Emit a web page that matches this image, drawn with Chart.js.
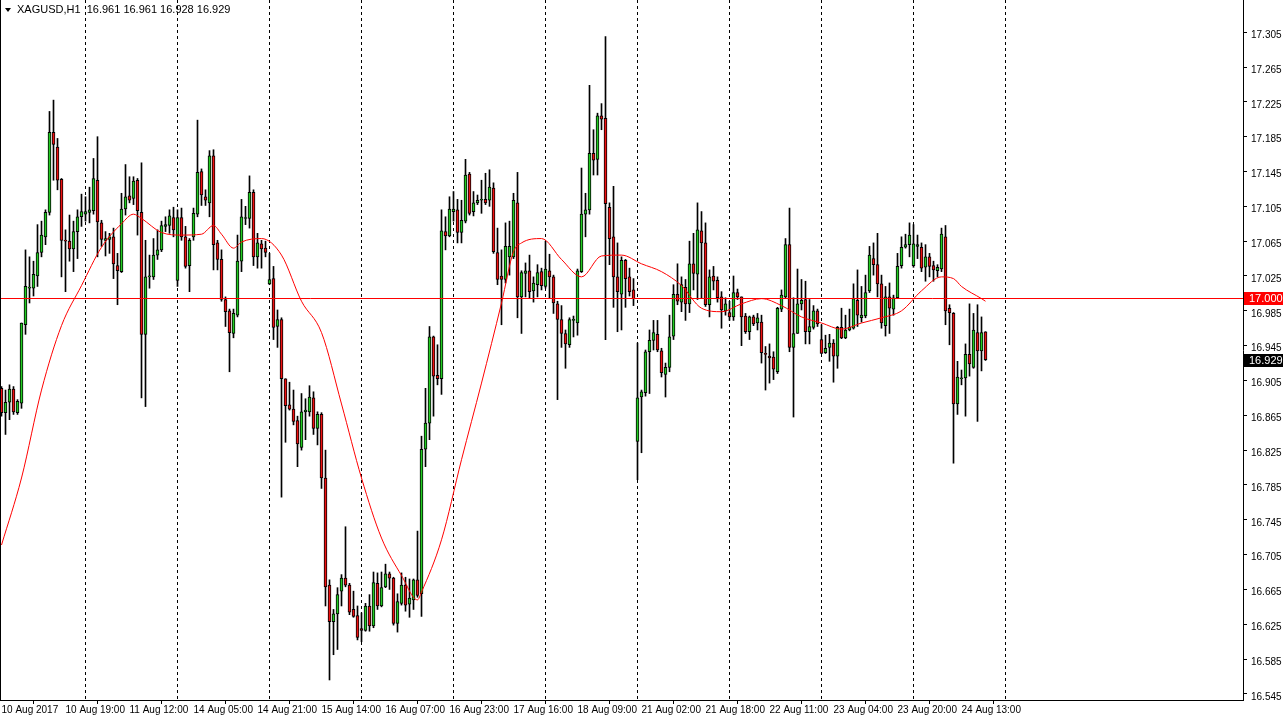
<!DOCTYPE html>
<html>
<head>
<meta charset="utf-8">
<title>XAGUSD,H1</title>
<script src="https://cdn.jsdelivr.net/npm/chart.js@4.4.0/dist/chart.umd.min.js"></script>
<style>
  html, body { margin: 0; padding: 0; background: #fff; }
  #wrap { position: relative; width: 1283px; height: 721px; }
</style>
</head>
<body>
<div id="wrap"><canvas id="chart" width="1283" height="721"></canvas></div>
<script>
// XAGUSD H1 candles, 10 Aug 2017 -> 24 Aug 2017
var opens = [
  16.896,16.868,16.880,16.895,16.868,16.879,16.969,17.011,17.011,17.025,
  17.052,17.070,17.098,17.190,17.173,17.136,17.066,17.065,17.056,17.076,
  17.093,17.096,17.098,17.100,17.135,17.086,17.066,17.067,17.070,17.037,
  17.030,17.102,17.117,17.114,17.135,17.098,16.958,17.024,17.024,17.049,
  17.055,17.082,17.083,17.092,17.020,17.092,17.070,17.037,17.070,17.096,
  17.145,17.116,17.109,17.163,17.063,17.044,16.998,16.985,16.959,16.980,
  17.042,17.091,17.091,17.121,17.047,17.062,17.057,17.016,17.022,16.967,
  16.975,16.907,16.877,16.872,16.859,16.828,16.869,16.869,16.885,16.850,
  16.866,16.793,16.670,16.628,16.637,16.663,16.678,16.670,16.642,16.635,
  16.620,16.618,16.646,16.623,16.672,16.646,16.668,16.683,16.678,16.626,
  16.649,16.670,16.648,16.653,16.676,16.660,16.826,16.856,16.955,16.911,
  16.907,17.076,17.071,17.099,17.101,17.075,17.088,17.142,17.099,17.109,
  17.112,17.113,17.112,17.126,17.052,17.025,17.021,17.047,17.047,17.109,
  17.001,17.028,17.031,17.008,17.015,17.030,17.013,17.031,17.024,16.993,
  16.975,16.959,16.946,16.974,16.971,17.030,17.096,17.101,17.166,17.159,
  17.209,17.206,17.104,17.070,17.024,17.004,17.043,17.024,17.009,16.835,
  16.886,16.891,16.938,16.951,16.958,16.939,16.912,16.920,16.956,17.004,
  16.995,17.012,16.993,17.039,17.027,17.077,17.063,16.992,17.025,17.020,
  17.001,16.985,16.983,16.978,17.006,17.001,16.979,16.961,16.978,16.971,
  16.972,16.936,16.933,16.932,16.915,16.987,17.001,17.061,16.943,16.959,
  16.993,16.998,16.961,16.966,16.985,16.952,16.937,16.943,16.948,16.933,
  16.966,16.954,16.963,16.965,16.997,16.977,16.979,17.008,17.045,17.038,
  17.016,16.968,17.001,16.987,17.000,17.037,17.058,17.061,17.037,17.059,
  17.058,17.035,17.047,17.037,17.031,17.033,17.070,16.988,16.982,16.878,
  16.907,16.908,16.935,16.920,16.960,16.939,16.961
];
var highs = [
  16.898,16.894,16.900,16.898,16.883,16.971,17.055,17.047,17.042,17.084,
  17.088,17.101,17.214,17.227,17.183,17.137,17.078,17.095,17.088,17.101,
  17.119,17.116,17.127,17.160,17.185,17.089,17.076,17.074,17.080,17.051,
  17.120,17.153,17.139,17.139,17.137,17.155,17.066,17.049,17.068,17.078,
  17.088,17.093,17.101,17.104,17.101,17.103,17.082,17.068,17.103,17.204,
  17.148,17.124,17.169,17.170,17.066,17.055,17.001,16.987,16.987,17.072,
  17.113,17.105,17.140,17.124,17.074,17.066,17.065,17.051,17.036,16.986,
  16.977,16.907,16.903,16.894,16.864,16.890,16.884,16.899,16.892,16.869,
  16.868,16.825,16.676,16.642,16.667,16.682,16.737,16.672,16.663,16.646,
  16.638,16.649,16.659,16.685,16.684,16.685,16.694,16.685,16.679,16.660,
  16.684,16.679,16.677,16.677,16.732,16.841,16.896,16.967,16.956,16.946,
  17.101,17.093,17.116,17.122,17.113,17.112,17.159,17.144,17.122,17.118,
  17.135,17.143,17.147,17.132,17.080,17.055,17.086,17.088,17.120,17.144,
  17.031,17.040,17.049,17.024,17.038,17.034,17.065,17.050,17.026,16.996,
  16.991,16.963,16.977,16.979,17.033,17.149,17.120,17.244,17.193,17.212,
  17.223,17.300,17.109,17.128,17.063,17.047,17.044,17.034,17.022,16.948,
  16.894,16.940,16.963,16.974,16.974,16.942,16.925,16.980,17.015,17.039,
  17.024,17.021,17.065,17.074,17.109,17.099,17.086,17.032,17.036,17.024,
  17.007,17.000,16.996,17.025,17.010,17.001,16.982,16.979,16.980,16.982,
  16.980,16.944,16.947,16.938,16.989,17.009,17.068,17.103,17.000,17.033,
  17.021,17.019,16.998,16.991,16.987,16.969,16.957,16.958,16.952,16.967,
  16.988,16.980,16.987,17.016,17.032,17.013,17.026,17.059,17.063,17.074,
  17.026,17.013,17.017,17.003,17.051,17.070,17.073,17.086,17.084,17.072,
  17.063,17.061,17.051,17.042,17.038,17.080,17.083,16.992,16.983,16.927,
  16.917,16.947,16.993,16.982,16.992,16.978,16.961
];
var lows = [
  16.864,16.843,16.860,16.866,16.866,16.873,16.958,16.994,17.002,17.013,
  17.047,17.061,17.095,17.135,17.124,17.024,17.007,17.042,17.030,17.045,
  17.082,17.088,17.086,17.096,17.047,17.059,17.048,17.051,17.022,16.992,
  17.029,17.095,17.109,17.107,17.072,16.885,16.875,17.011,17.021,17.044,
  17.053,17.076,17.074,17.070,17.013,17.066,17.034,17.007,17.066,17.093,
  17.106,17.106,17.093,17.032,17.032,16.996,16.967,16.915,16.954,16.978,
  17.030,17.084,17.080,17.037,17.034,17.034,17.047,17.015,16.952,16.943,
  16.771,16.834,16.871,16.854,16.806,16.825,16.837,16.864,16.843,16.831,
  16.781,16.646,16.561,16.590,16.596,16.646,16.668,16.636,16.633,16.607,
  16.605,16.617,16.617,16.621,16.642,16.645,16.667,16.665,16.624,16.616,
  16.647,16.640,16.633,16.642,16.656,16.634,16.806,16.837,16.864,16.900,
  16.889,17.055,17.070,17.088,17.063,17.063,17.086,17.095,17.094,17.107,
  17.097,17.107,17.105,17.051,17.015,16.969,17.017,17.026,17.045,16.977,
  16.959,17.001,17.000,16.995,17.001,17.009,17.011,17.000,16.982,16.883,
  16.943,16.919,16.943,16.955,16.957,17.029,17.070,17.096,17.141,17.141,
  17.193,16.952,17.038,16.989,16.961,16.963,16.989,17.002,16.991,16.791,
  16.822,16.887,16.890,16.940,16.938,16.909,16.886,16.915,16.952,16.992,
  16.984,16.974,16.983,17.009,16.998,16.999,16.990,16.978,17.009,16.995,
  16.965,16.980,16.974,16.974,16.998,16.945,16.959,16.952,16.968,16.963,
  16.925,16.894,16.902,16.906,16.913,16.984,17.000,16.938,16.863,16.959,
  16.986,16.947,16.947,16.964,16.967,16.936,16.936,16.927,16.903,16.919,
  16.953,16.953,16.962,16.964,16.967,16.972,16.977,17.006,17.026,17.001,
  16.965,16.956,16.959,16.980,17.000,17.034,17.057,17.047,17.035,17.045,
  17.030,17.019,17.024,17.019,17.024,17.030,16.969,16.946,16.810,16.866,
  16.900,16.864,16.910,16.919,16.858,16.916,16.928
];
var closes = [
  16.868,16.880,16.895,16.869,16.881,16.971,17.013,17.012,17.027,17.052,
  17.072,17.098,17.190,17.176,17.135,17.066,17.065,17.056,17.076,17.093,
  17.099,17.099,17.101,17.137,17.087,17.067,17.068,17.070,17.039,17.031,
  17.102,17.116,17.112,17.134,17.100,16.958,17.024,17.025,17.049,17.055,
  17.083,17.084,17.094,17.078,17.092,17.070,17.036,17.066,17.097,17.144,
  17.118,17.112,17.163,17.061,17.044,16.998,16.984,16.960,16.982,17.042,
  17.093,17.092,17.121,17.047,17.063,17.056,17.052,17.021,16.966,16.975,
  16.907,16.876,16.872,16.858,16.832,16.869,16.871,16.886,16.850,16.866,
  16.793,16.668,16.628,16.637,16.659,16.678,16.670,16.639,16.634,16.610,
  16.618,16.646,16.623,16.673,16.646,16.667,16.683,16.678,16.626,16.651,
  16.670,16.647,16.655,16.676,16.658,16.826,16.856,16.955,16.910,16.907,
  17.077,17.071,17.102,17.102,17.075,17.089,17.141,17.097,17.109,17.112,
  17.113,17.109,17.127,17.053,17.021,17.021,17.059,17.059,17.112,17.001,
  17.029,17.031,17.007,17.017,17.029,17.014,17.033,17.024,16.994,16.975,
  16.959,16.947,16.975,16.975,17.031,17.096,17.101,17.166,17.158,17.209,
  17.205,17.108,17.068,17.024,17.007,17.043,17.022,17.007,16.999,16.885,
  16.892,16.938,16.951,16.960,16.940,16.914,16.920,16.955,17.004,16.996,
  17.015,16.993,17.039,17.028,17.078,17.063,16.992,17.024,17.019,17.000,
  16.986,16.993,16.978,17.006,17.001,16.978,16.961,16.978,16.970,16.977,
  16.937,16.935,16.931,16.918,16.988,17.003,17.061,16.943,16.959,16.993,
  16.997,16.961,16.967,16.985,16.970,16.936,16.942,16.948,16.933,16.966,
  16.954,16.963,16.966,16.999,16.980,16.980,17.006,17.049,17.038,17.016,
  16.971,17.001,16.988,17.000,17.036,17.058,17.061,17.072,17.062,17.061,
  17.034,17.047,17.036,17.032,17.035,17.073,16.985,16.983,16.878,16.909,
  16.908,16.935,16.924,16.963,16.939,16.960,16.929
];

// moving average (red curve), sampled at bar indices
var maIdx = [0,5,10,15,20,25,30,33,35,40,45,50,53,55,58,60,65,70,75,80,
  85,90,95,100,104,105,110,115,120,125,128,130,135,140,145,150,155,160,165,170,
  175,180,185,190,195,200,205,210,215,220,225,230,235,238,240,245,246];
var maVals = [16.716,16.793,16.894,16.968,17.014,17.058,17.085,17.096,17.091,17.075,
  17.072,17.073,17.083,17.073,17.057,17.064,17.068,17.049,16.996,16.960,
  16.878,16.793,16.724,16.681,16.653,16.662,16.722,16.814,16.902,16.994,
  17.053,17.063,17.068,17.044,17.024,17.048,17.049,17.039,17.030,17.014,
  16.988,16.984,16.993,16.999,16.991,16.978,16.971,16.964,16.971,16.977,
  16.985,17.008,17.024,17.022,17.013,16.999,16.996];

// time axis
var timeLabels = ["10 Aug 2017","10 Aug 19:00","11 Aug 12:00","14 Aug 05:00","14 Aug 21:00",
  "15 Aug 14:00","16 Aug 07:00","16 Aug 23:00","17 Aug 16:00","18 Aug 09:00",
  "21 Aug 02:00","21 Aug 18:00","22 Aug 11:00","23 Aug 04:00","23 Aug 20:00","24 Aug 13:00"];
var labelIdx = [0,16,32,48,64,80,96,112,128,144,160,176,192,208,224,240];
var gridIdx = [21,44,67,90,113,136,159,182,205,228,251];

// price axis
var yTicks = [16.545,16.585,16.625,16.665,16.705,16.745,16.785,16.825,16.865,16.905,
  16.945,16.985,17.025,17.065,17.105,17.145,17.185,17.225,17.265,17.305];
var levelPrice = 17.000;
var symbol = "XAGUSD,H1";

var UP = "#22cc22", DOWN = "#ee1111";

var wickData = opens.map(function (o, i) { return { x: i, y: [lows[i], highs[i]] } });
var bodyData = opens.map(function (o, i) {
  return { x: i, y: [Math.min(o, closes[i]), Math.max(o, closes[i])] }
});
var bodyColors = opens.map(function (o, i) { return closes[i] >= o ? UP : DOWN });
var maData = maIdx.map(function (x, k) { return { x: x, y: maVals[k] } });

var last = opens.length - 1;

var overlay = {
  id: "overlay",
  beforeDatasetsDraw: function (chart) {
    var ctx = chart.ctx, a = chart.chartArea, xs = chart.scales.x;
    ctx.save();
    ctx.strokeStyle = "#000";
    ctx.lineWidth = 1;
    ctx.setLineDash([3, 3]);
    gridIdx.forEach(function (g) {
      var px = Math.round(xs.getPixelForValue(g)) - 0.5;
      ctx.beginPath();
      ctx.moveTo(px, a.top);
      ctx.lineTo(px, a.bottom);
      ctx.stroke();
    });
    ctx.restore();
  },
  afterDatasetsDraw: function (chart) {
    var ctx = chart.ctx, a = chart.chartArea, ys = chart.scales.y;
    ctx.save();
    // 17.000 level
    var ly = Math.round(ys.getPixelForValue(levelPrice)) + 0.5;
    ctx.strokeStyle = "#ff0000";
    ctx.lineWidth = 1;
    ctx.beginPath();
    ctx.moveTo(a.left, ly);
    ctx.lineTo(a.right, ly);
    ctx.stroke();
    // left frame
    ctx.strokeStyle = "#000";
    ctx.beginPath();
    ctx.moveTo(0.5, a.top);
    ctx.lineTo(0.5, a.bottom);
    ctx.stroke();
    // header
    ctx.fillStyle = "#000";
    ctx.beginPath();
    ctx.moveTo(5, 8); ctx.lineTo(11, 8); ctx.lineTo(8, 12); ctx.closePath();
    ctx.fill();
    ctx.font = "11px 'Liberation Sans', Arial, sans-serif";
    ctx.textBaseline = "middle";
    ctx.textAlign = "left";
    ctx.fillText(symbol + "  " + opens[last].toFixed(3) + " " + highs[last].toFixed(3) + " " +
      lows[last].toFixed(3) + " " + closes[last].toFixed(3), 17, 10);
    ctx.restore();
  },
  afterDraw: function (chart) {
    var ctx = chart.ctx, a = chart.chartArea, ys = chart.scales.y;
    ctx.save();
    ctx.font = "11px 'Liberation Sans', Arial, sans-serif";
    ctx.textBaseline = "middle";
    ctx.textAlign = "left";
    function tag(price, bg) {
      var y = Math.round(ys.getPixelForValue(price));
      ctx.fillStyle = bg;
      ctx.fillRect(a.right + 1, y - 6, 40, 13);
      ctx.fillStyle = "#fff";
      ctx.fillText(price.toFixed(3), a.right + 6, y + 0.5);
    }
    tag(levelPrice, "#ff0000");
    tag(closes[last], "#000");
    ctx.restore();
  }
};

new Chart(document.getElementById("chart"), {
  data: {
    datasets: [
      {
        type: "line",
        data: maData,
        borderColor: "#ff0000",
        borderWidth: 1,
        pointRadius: 0,
        cubicInterpolationMode: "monotone",
        order: 0
      },
      {
        type: "bar",
        data: bodyData,
        backgroundColor: bodyColors,
        borderColor: "#000",
        borderWidth: 1,
        borderSkipped: false,
        barThickness: 3,
        minBarLength: 1,
        grouped: false,
        order: 1
      },
      {
        type: "bar",
        data: wickData,
        backgroundColor: "#000",
        borderWidth: 0,
        barThickness: 1,
        grouped: false,
        order: 2
      }
    ]
  },
  options: {
    responsive: false,
    animation: false,
    events: [],
    layout: { padding: 0 },
    plugins: { legend: { display: false }, tooltip: { enabled: false } },
    scales: {
      x: {
        type: "linear",
        min: -0.375,
        max: 310.375,
        offset: false,
        afterFit: function (s) { s.height = 21; s.paddingLeft = 0; s.paddingRight = 0 },
        afterBuildTicks: function (s) { s.ticks = labelIdx.map(function (v) { return { value: v } }) },
        grid: { drawOnChartArea: false, color: "#000", tickLength: 4 },
        border: { display: true, color: "#000" },
        ticks: {
          align: "start",
          padding: 0,
          maxRotation: 0,
          autoSkip: false,
          color: "#000",
          font: { family: "'Liberation Sans', Arial, sans-serif", size: 10 },
          callback: function (v) { return timeLabels[labelIdx.indexOf(v)] }
        }
      },
      y: {
        type: "linear",
        position: "right",
        min: 16.538,
        max: 17.342,
        afterFit: function (s) { s.width = 40; s.paddingTop = 0; s.paddingBottom = 0 },
        afterBuildTicks: function (s) { s.ticks = yTicks.map(function (v) { return { value: v } }) },
        grid: { drawOnChartArea: false, color: "#000", tickLength: 4 },
        border: { display: true, color: "#000" },
        ticks: {
          padding: 4,
          labelOffset: 3,
          color: "#000",
          font: { family: "'Liberation Sans', Arial, sans-serif", size: 10 },
          callback: function (v) { return v.toFixed(3) }
        }
      }
    }
  },
  plugins: [overlay]
});
</script>
</body>
</html>
